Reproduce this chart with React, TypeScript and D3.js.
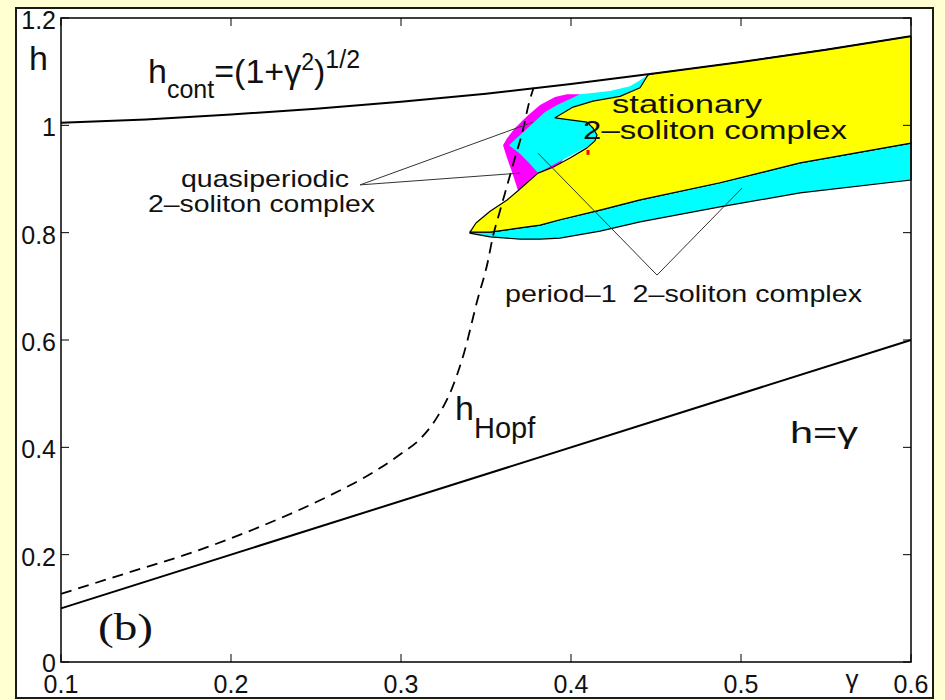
import React from "react";
import * as d3 from "d3";

// axis ticks
const gammaTicks = [0.1, 0.2, 0.3, 0.4, 0.5, 0.6];
const gammaTickLabels = ["0.1", "0.2", "0.3", "0.4", "0.5", "0.6"];
const hTicks = [0, 0.2, 0.4, 0.6, 0.8, 1, 1.2];
const hTickLabels = ["0", "0.2", "0.4", "0.6", "0.8", "1", "1.2"];

// h_cont = (1+g^2)^(1/2)
const hContGamma = [0.1, 0.15, 0.2, 0.25, 0.3, 0.35, 0.4, 0.45, 0.5, 0.55, 0.6];
const hContH = [1.005, 1.011, 1.02, 1.031, 1.044, 1.059, 1.077, 1.097, 1.118, 1.141, 1.166];

// h = gamma
const hGammaLine: [number, number][] = [[0.1, 0.1], [0.6, 0.6]];

// h_Hopf (dashed)
const hopf: [number, number][] = [
  [0.1, 0.127], [0.139, 0.166], [0.178, 0.205], [0.217, 0.252], [0.256, 0.307],
  [0.286, 0.358], [0.3, 0.388], [0.312, 0.418], [0.322, 0.46], [0.33, 0.51],
  [0.337, 0.575], [0.345, 0.675], [0.351, 0.745], [0.354, 0.792], [0.358, 0.838],
  [0.362, 0.883], [0.367, 0.939], [0.372, 0.995], [0.375, 1.038], [0.378, 1.07],
];

// stationary region (yellow) outline, tip -> notch -> h_cont -> right edge -> lower edge
const yellowUpper: [number, number][] = [
  [0.3406, 0.801], [0.3441, 0.818], [0.3524, 0.84], [0.3624, 0.861], [0.3688, 0.878],
  [0.3806, 0.911], [0.3894, 0.922], [0.3994, 0.939], [0.4094, 0.958], [0.4141, 0.971],
  [0.4153, 0.982], [0.4129, 0.995], [0.4094, 1.006], [0.3906, 1.014], [0.4012, 1.034],
  [0.4129, 1.045], [0.4288, 1.054], [0.4406, 1.07], [0.4453, 1.094],
  [0.45, 1.097], [0.5, 1.118], [0.55, 1.141], [0.6, 1.166],
];
const yellowLower: [number, number][] = [
  [0.3406, 0.801], [0.3524, 0.801], [0.37, 0.809], [0.3818, 0.814], [0.3935, 0.824],
  [0.4171, 0.842], [0.4406, 0.861], [0.4876, 0.893], [0.5347, 0.93], [0.6, 0.967],
];
// lower edge of the period-1 band
const cyanLower: [number, number][] = [
  [0.3406, 0.799], [0.3524, 0.792], [0.37, 0.788], [0.3818, 0.788], [0.3935, 0.79],
  [0.4171, 0.803], [0.4406, 0.82], [0.4876, 0.848], [0.5347, 0.874], [0.6, 0.898],
];
// period-1 blob at the top (partly hidden under yellow)
const cyanUpper: [number, number][] = [
  [0.4453, 1.094], [0.4406, 1.084], [0.4347, 1.073], [0.4229, 1.064], [0.4112, 1.06],
  [0.4053, 1.058], [0.3994, 1.049], [0.3918, 1.038], [0.3847, 1.025], [0.3776, 1.004],
  [0.37, 0.982], [0.3635, 0.963], [0.37, 0.947], [0.3759, 0.928], [0.3806, 0.911],
  [0.4171, 0.973], [0.4465, 1.066],
];
// quasiperiodic region (magenta, partly hidden)
const magenta: [number, number][] = [
  [0.4053, 1.058], [0.3976, 1.058], [0.3906, 1.053], [0.3818, 1.038], [0.3741, 1.017],
  [0.3671, 0.995], [0.3624, 0.976], [0.36, 0.963], [0.3624, 0.939], [0.3653, 0.913],
  [0.3688, 0.879], [0.3876, 0.898], [0.4082, 1.0],
];
const redMark: [number, number][] = [[0.41, 0.954], [0.41, 0.945]];

// annotation pointers
const quasiPointers: [number, number][][] = [
  [[0.2759, 0.889], [0.3776, 1.006]],
  [[0.2759, 0.889], [0.37, 0.911]],
];
const periodPointers: [number, number][][] = [
  [[0.3806, 0.948], [0.4506, 0.721]],
  [[0.4506, 0.721], [0.5006, 0.883]],
];

const W = 945;
const H = 700;
const left = 61, right = 911, top = 18, bottom = 662;
const sans = "'Liberation Sans', Arial, Helvetica, sans-serif";

export default function App() {
  const x = d3.scaleLinear([0.1, 0.6], [left, right]);
  const y = d3.scaleLinear([0, 1.2], [bottom, top]);
  const line = d3.line<[number, number]>().x(d => x(d[0])).y(d => y(d[1]));
  const smooth = d3.line<[number, number]>().x(d => x(d[0])).y(d => y(d[1])).curve(d3.curveMonotoneX);
  const hCont: [number, number][] = hContGamma.map((g, i) => [g, hContH[i]]);

  const yellowPoly = line([...yellowUpper, ...yellowLower.slice().reverse()]) + "Z";
  const bandPoly = line([...yellowLower, ...cyanLower.slice().reverse()]) + "Z";

  const tick = 8;
  const label = (g: number, h: number) => ({ x: x(g), y: y(h) });
  const lq = label(0.1706, 0.885);
  const lq2 = label(0.1512, 0.8385);
  const ls = label(0.4241, 1.023);
  const ls2 = label(0.4071, 0.9745);
  const lp = label(0.3612, 0.6708);
  const lh = label(0.3318, 0.451);
  const lg = label(0.5288, 0.408);
  const lc = label(0.1512, 1.079);
  const lb = label(0.1218, 0.041);

  return (
    <svg width={W} height={H} style={{ position: "absolute", left: 0, top: 0, display: "block" }}
      fontFamily={sans}>
      <rect x={0} y={0} width={W} height={H} fill="#ffffd2" />
      <rect x={16} y={8} width={917} height={690} fill="#ffffff" stroke="#1a1a1a" strokeWidth={2} />

      {/* regions */}
      <path d={bandPoly} fill="#00ffff" stroke="#000" strokeWidth={1.2} />
      <path d={line(magenta) + "Z"} fill="#ff00ff" />
      <path d={line(cyanUpper) + "Z"} fill="#00ffff" />
      <path d={yellowPoly} fill="#ffff00" stroke="#000" strokeWidth={1.2} strokeLinejoin="round" />
      <path d={line(redMark)!} stroke="#ff0000" strokeWidth={3} />

      {/* curves */}
      <path d={smooth(hCont)!} fill="none" stroke="#000" strokeWidth={2} />
      <path d={line(hGammaLine)!} fill="none" stroke="#000" strokeWidth={2} />
      <path d={smooth(hopf)!} fill="none" stroke="#000" strokeWidth={1.8} strokeDasharray="11,7" />

      {/* pointers */}
      {[...quasiPointers, ...periodPointers].map((p, i) => (
        <path key={i} d={line(p)!} stroke="#333" strokeWidth={1} fill="none" />
      ))}

      {/* labels */}
      <g fill="#111">
        <text x={lc.x} y={lc.y} fontSize={34}>h<tspan dy={15} fontSize={25}>cont</tspan>
          <tspan dy={-15} fontSize={34}>=(1+γ</tspan>
          <tspan dy={-13} fontSize={23}>2</tspan>
          <tspan dy={13} fontSize={34}>)</tspan>
          <tspan dy={-15} fontSize={25}>1/2</tspan>
        </text>
        <text x={lq.x} y={lq.y} fontSize={24} textLength={168} lengthAdjust="spacingAndGlyphs">quasiperiodic</text>
        <text x={lq2.x} y={lq2.y} fontSize={24} textLength={227} lengthAdjust="spacingAndGlyphs">2–soliton complex</text>
        <text x={ls.x} y={ls.y} fontSize={25} textLength={150} lengthAdjust="spacingAndGlyphs">stationary</text>
        <text x={ls2.x} y={ls2.y} fontSize={25} textLength={264} lengthAdjust="spacingAndGlyphs">2–soliton complex</text>
        <text x={lp.x} y={lp.y} fontSize={24} textLength={357} lengthAdjust="spacingAndGlyphs"
          style={{ whiteSpace: "pre" }}>period–1  2–soliton complex</text>
        <text x={lh.x} y={lh.y} fontSize={34}>h<tspan dy={18} fontSize={29}>Hopf</tspan></text>
        <text x={lg.x} y={lg.y} fontSize={30} textLength={68} lengthAdjust="spacingAndGlyphs">h=γ</text>
        <text x={lb.x} y={lb.y} fontSize={38} fontFamily="'Liberation Serif', 'Times New Roman', serif"
          textLength={55} lengthAdjust="spacingAndGlyphs">(b)</text>
      </g>

      {/* axes box */}
      <rect x={left} y={top} width={right - left} height={bottom - top} fill="none" stroke="#000" strokeWidth={1.5} />
      {gammaTicks.map(g => (
        <g key={"gx" + g}>
          <line x1={x(g)} x2={x(g)} y1={bottom} y2={bottom - tick} stroke="#000" />
          <line x1={x(g)} x2={x(g)} y1={top} y2={top + tick} stroke="#000" />
        </g>
      ))}
      {hTicks.map(h => (
        <g key={"hy" + h}>
          <line x1={left} x2={left + tick} y1={y(h)} y2={y(h)} stroke="#000" />
          <line x1={right} x2={right - tick} y1={y(h)} y2={y(h)} stroke="#000" />
        </g>
      ))}
      <g fill="#111" fontSize={25}>
        {gammaTicks.map((g, i) => (
          <text key={"gl" + g} x={x(g)} y={693} textAnchor="middle">{gammaTickLabels[i]}</text>
        ))}
        {hTicks.map((h, i) => (
          <text key={"hl" + h} x={56} y={y(h) + (h === 0 ? 10 : 11)} textAnchor="end">{hTickLabels[i]}</text>
        ))}
        <text x={852} y={688} textAnchor="middle" fontSize={26}>γ</text>
        <text x={29} y={70} fontSize={34}>h</text>
      </g>
    </svg>
  );
}
